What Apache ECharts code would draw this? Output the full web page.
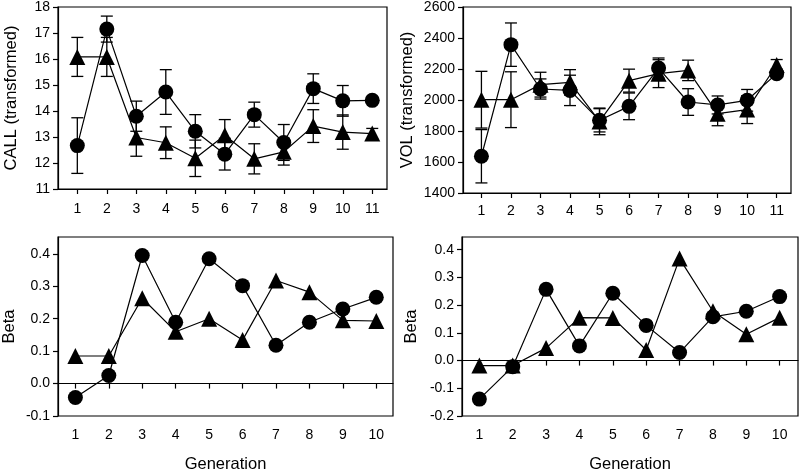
<!DOCTYPE html>
<html>
<head>
<meta charset="utf-8">
<script src="https://cdn.jsdelivr.net/npm/echarts@6/dist/echarts.min.js"></script>
<style>
    html, body { margin: 0; padding: 0; background: #fff; }
    #chart { width: 800px; height: 474px; }
</style>
</head>
<body>
<div id="chart"></div>
<script>
    // generations
    var gens11 = [1, 2, 3, 4, 5, 6, 7, 8, 9, 10, 11]
    var gens10 = [1, 2, 3, 4, 5, 6, 7, 8, 9, 10]

    // CALL (transformed): mean and error, circles / triangles
    var callCircle = [12.67, 17.15, 13.80, 14.73, 13.22, 12.34, 13.86, 12.79, 14.86, 14.39, 14.41]
    var callCircleErr = [1.07, 0.50, 0.58, 0.86, 0.64, 0.61, 0.48, 0.69, 0.57, 0.59, 0.10]
    var callTri = [16.08, 16.08, 12.98, 12.78, 12.18, 13.07, 12.16, 12.43, 13.42, 13.19, 13.13]
    var callTriErr = [0.75, 0.75, 0.72, 0.61, 0.70, 0.60, 0.58, 0.51, 0.63, 0.66, 0.20]

    // VOL (transformed)
    var volCircle = [1637, 2357, 2071, 2062, 1869, 1959, 2206, 1987, 1968, 1998, 2170]
    var volCircleErr = [172, 140, 65, 98, 75, 86, 65, 86, 58, 70, 15]
    var volTri = [2002, 2002, 2099, 2114, 1862, 2125, 2170, 2191, 1912, 1938, 2226]
    var volTriErr = [183, 180, 80, 82, 86, 74, 90, 66, 78, 90, 35]

    // Beta, left and right panels
    var betaLCircle = [-0.043, 0.025, 0.395, 0.189, 0.385, 0.302, 0.118, 0.189, 0.230, 0.266]
    var betaLTri = [0.085, 0.085, 0.263, 0.160, 0.200, 0.134, 0.318, 0.282, 0.195, 0.193]
    var betaRCircle = [-0.139, -0.022, 0.257, 0.053, 0.243, 0.127, 0.029, 0.158, 0.178, 0.231]
    var betaRTri = [-0.018, -0.018, 0.045, 0.155, 0.154, 0.038, 0.368, 0.178, 0.095, 0.155]

    // tick labels
    var callTicks = [11, 12, 13, 14, 15, 16, 17, 18]
    var volTicks = [1400, 1600, 1800, 2000, 2200, 2400, 2600]
    var betaLTicks = [-0.1, 0, 0.1, 0.2, 0.3, 0.4]
    var betaRTicks = [-0.2, -0.1, 0, 0.1, 0.2, 0.3, 0.4]

    var FONT = 'Liberation Sans, Arial, sans-serif'

    function pairs(xs, ys) {
        return xs.map(function (x, i) { return [x, ys[i]] })
    }

    function xAxisFor(grid, ticks, min, max, margin, name) {
        return {
            type: 'value', gridIndex: grid, min: min, max: max,
            axisLine: { show: true, lineStyle: { color: '#000', width: 1.2 } },
            axisTick: { show: true, inside: false, length: 5, customValues: ticks, lineStyle: { color: '#000', width: 1.2 } },
            axisLabel: { customValues: ticks, margin: margin, color: '#000', fontSize: 14, fontFamily: FONT },
            splitLine: { show: false },
            name: name || '', nameLocation: 'middle', nameGap: 40,
            nameTextStyle: { color: '#000', fontSize: 16.5, fontFamily: FONT }
        }
    }

    function yAxisFor(grid, ticks, min, max, name, gap, digits) {
        return {
            type: 'value', gridIndex: grid, min: min, max: max,
            axisLine: { show: true, lineStyle: { color: '#000', width: 1.2 } },
            axisTick: { show: true, inside: false, length: 5, customValues: ticks, lineStyle: { color: '#000', width: 1.2 } },
            axisLabel: {
                customValues: ticks, margin: 8, color: '#000', fontSize: 14, fontFamily: FONT,
                formatter: function (v) { return digits ? Number(v).toFixed(digits) : String(v) }
            },
            splitLine: { show: false },
            name: name, nameLocation: 'middle', nameGap: gap, nameRotate: 90,
            nameTextStyle: { color: '#000', fontSize: 16.5, fontFamily: FONT }
        }
    }

    function lineSeries(grid, xs, ys, symbol, size) {
        return {
            type: 'line', xAxisIndex: grid, yAxisIndex: grid,
            data: pairs(xs, ys),
            symbol: symbol, symbolSize: size,
            showAllSymbol: true,
            lineStyle: { color: '#000', width: 1.2 },
            itemStyle: { color: '#000', borderWidth: 0 },
            z: 3
        }
    }

    function errSeries(grid, xs, mean, err) {
        return {
            type: 'custom', xAxisIndex: grid, yAxisIndex: grid,
            data: xs.map(function (x, i) { return [x, mean[i] - err[i], mean[i] + err[i]] }),
            encode: { x: 0, y: [1, 2] },
            renderItem: function (params, api) {
                var x = api.value(0)
                var lo = api.coord([x, api.value(1)])
                var hi = api.coord([x, api.value(2)])
                var w = 6
                var st = { stroke: '#000', lineWidth: 1.3 }
                return {
                    type: 'group',
                    children: [
                        { type: 'line', shape: { x1: lo[0], y1: lo[1], x2: hi[0], y2: hi[1] }, style: st },
                        { type: 'line', shape: { x1: hi[0] - w, y1: hi[1], x2: hi[0] + w, y2: hi[1] }, style: st },
                        { type: 'line', shape: { x1: lo[0] - w, y1: lo[1], x2: lo[0] + w, y2: lo[1] }, style: st }
                    ]
                }
            },
            z: 2
        }
    }

    var gridStyle = { show: true, borderColor: '#000', borderWidth: 1.2, backgroundColor: 'transparent' }

    var option = {
        animation: false,
        backgroundColor: '#fff',
        grid: [
            Object.assign({ left: 58, top: 7, width: 329, height: 182 }, gridStyle),
            Object.assign({ left: 463, top: 7, width: 328, height: 186 }, gridStyle),
            Object.assign({ left: 58, top: 237, width: 335, height: 181 }, gridStyle),
            Object.assign({ left: 462, top: 237, width: 336, height: 181 }, gridStyle)
        ],
        xAxis: [
            xAxisFor(0, gens11, 0.345, 11.5, 13),
            xAxisFor(1, gens11, 0.376, 11.485, 11),
            xAxisFor(2, gens10, 0.48, 10.5, 12, 'Generation'),
            xAxisFor(3, gens10, 0.48, 10.55, 12, 'Generation')
        ],
        yAxis: [
            yAxisFor(0, callTicks, 11, 18, 'CALL (transformed)', 38, 0),
            yAxisFor(1, volTicks, 1400, 2600, 'VOL (transformed)', 47, 0),
            yAxisFor(2, betaLTicks, -0.1, 0.452, 'Beta', 40, 1),
            yAxisFor(3, betaRTicks, -0.2, 0.446, 'Beta', 42, 1)
        ],
        series: [
            errSeries(0, gens11, callCircle, callCircleErr),
            errSeries(0, gens11, callTri, callTriErr),
            lineSeries(0, gens11, callCircle, 'circle', 15),
            lineSeries(0, gens11, callTri, 'triangle', 16),

            errSeries(1, gens11, volCircle, volCircleErr),
            errSeries(1, gens11, volTri, volTriErr),
            lineSeries(1, gens11, volCircle, 'circle', 15),
            lineSeries(1, gens11, volTri, 'triangle', 16),

            lineSeries(2, gens10, betaLCircle, 'circle', 15),
            lineSeries(2, gens10, betaLTri, 'triangle', 16),

            lineSeries(3, gens10, betaRCircle, 'circle', 15),
            lineSeries(3, gens10, betaRTri, 'triangle', 16)
        ]
    }

    var chartObj = echarts.init(document.getElementById('chart'), null, { renderer: 'canvas' })
    chartObj.setOption(option)
</script>
</body>
</html>
